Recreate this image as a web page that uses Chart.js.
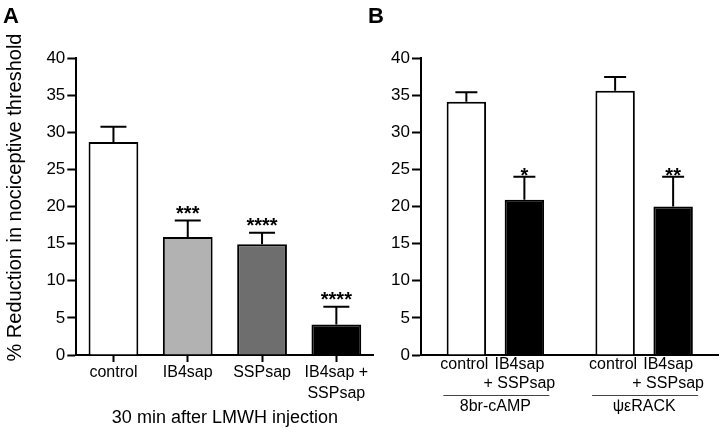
<!DOCTYPE html>
<html><head><meta charset="utf-8">
<script src="https://cdn.jsdelivr.net/npm/chart.js@4"></script>
<style>
html,body{margin:0;padding:0;background:#fff;}
#wrap{position:relative;width:720px;height:432px;overflow:hidden;background:#fff;}
canvas{position:absolute;top:0;}
#cA{left:0;} #cB{left:360px;}
</style></head><body>
<div id="wrap"><canvas id="cA" width="380" height="432"></canvas><canvas id="cB" width="360" height="432"></canvas></div>
<script>
// ---- Data ----
const yTicksMin = 0, yTicksMax = 40, yTickStep = 5;
const yAxisTitle = '% Reduction in nociceptive threshold';

// Panel A
const categoriesA = ['control', 'IB4sap', 'SSPsap', ['IB4sap +', 'SSPsap']];
const meansA = [28.7, 15.9, 14.9, 4.1];
const semA = [2.05, 2.2, 1.55, 2.4];
const starsA = ['', '***', '****', '****'];
const xTitleA = '30 min after LMWH injection';
const colorsA = ['#ffffff', '#b2b2b2', '#6e6e6e', '#000000'];

// Panel B
const groupsB = ['8br-cAMP', 'ψεRACK'];
const barLabelsB = [['control'], ['IB4sap', '+ SSPsap']];
const controlB = [34.1, 35.6];
const controlSemB = [1.3, 1.85];
const treatB = [20.9, 20.0];
const treatSemB = [3.1, 4.0];
const starsB = ['*', '**'];

// ---- Styles ----
const FONT = '"Liberation Sans", Arial, Helvetica, sans-serif';
Chart.defaults.font.family = FONT;
Chart.defaults.color = '#000';
const LW = 2;

function errorPlugin(semSets, starSets, capW, starOffset) {
  return {
    id: 'errs',
    afterDatasetsDraw(chart) {
      const ctx = chart.ctx, ys = chart.scales.y;
      ctx.save();
      ctx.strokeStyle = '#000'; ctx.lineWidth = LW; ctx.fillStyle = '#000';
      chart.data.datasets.forEach((ds, di) => {
        const meta = chart.getDatasetMeta(di);
        meta.data.forEach((el, i) => {
          const v = ds.data[i] + semSets[di][i];
          const yt = ys.getPixelForValue(v);
          ctx.beginPath();
          ctx.moveTo(el.x, el.y); ctx.lineTo(el.x, yt);
          ctx.moveTo(el.x - capW / 2, yt); ctx.lineTo(el.x + capW / 2, yt);
          ctx.stroke();
          const s = starSets[di][i];
          if (s) {
            ctx.font = 'bold 20px ' + FONT;
            ctx.textAlign = 'center'; ctx.textBaseline = 'alphabetic';
            ctx.fillText(s, el.x, yt + starOffset);
          }
        });
      });
      ctx.restore();
    }
  };
}

function panelLabel(txt, x) {
  return {
    id: 'panel' + txt,
    afterDraw(chart) {
      const ctx = chart.ctx;
      ctx.save();
      ctx.font = 'bold 22px ' + FONT;
      ctx.fillStyle = '#000'; ctx.textAlign = 'left'; ctx.textBaseline = 'alphabetic';
      ctx.fillText(txt, x, 23);
      ctx.restore();
    }
  };
}

const yTitlePlugin = {
  id: 'ytitle',
  afterDraw(chart) {
    const ctx = chart.ctx;
    ctx.save();
    ctx.translate(15, 197.5);
    ctx.rotate(-Math.PI / 2);
    ctx.font = '20px ' + FONT;
    ctx.fillStyle = '#000'; ctx.textAlign = 'center'; ctx.textBaseline = 'middle';
    ctx.fillText(yAxisTitle, 0, 0);
    ctx.restore();
  }
};

const barLabelPlugin = {
  id: 'barlabels',
  afterDraw(chart) {
    const ctx = chart.ctx;
    ctx.save();
    ctx.font = '16px ' + FONT;
    ctx.fillStyle = '#000'; ctx.textAlign = 'center'; ctx.textBaseline = 'middle';
    chart.data.datasets.forEach((ds, di) => {
      const meta = chart.getDatasetMeta(di);
      meta.data.forEach((el) => {
        const lines = barLabelsB[di];
        lines.forEach((ln, k) => {
          ctx.fillText(ln, el.x - (di === 0 ? 2 : 5), 365 + k * 19);
        });
      });
    });
    // group underlines
    const xs = chart.scales.x;
    ctx.strokeStyle = '#444'; ctx.lineWidth = 1;
    groupsB.forEach((g, i) => {
      const cx = xs.getPixelForValue(i);
      ctx.beginPath();
      ctx.moveTo(cx - 52, 395.5); ctx.lineTo(cx + 54, 395.5);
      ctx.stroke();
    });
    ctx.restore();
  }
};

const yScaleCommon = (w) => ({
  min: yTicksMin, max: yTicksMax,
  ticks: { stepSize: yTickStep, color: '#000', font: { size: 17 }, padding: 2 },
  grid: { drawOnChartArea: false, tickLength: 9, tickColor: '#000', tickWidth: LW },
  border: { color: '#000', width: LW },
  afterFit(s) { s.width = w; }
});

new Chart(document.getElementById('cA'), {
  type: 'bar',
  data: {
    labels: categoriesA,
    datasets: [{
      data: meansA, backgroundColor: colorsA, borderColor: '#000', borderWidth: LW,
      barPercentage: 0.67, categoryPercentage: 1
    }]
  },
  options: {
    responsive: false, animation: false, devicePixelRatio: 1,
    layout: { padding: { left: 0, right: 380 - 373.5, top: 58, bottom: 0 } },
    plugins: { legend: { display: false }, tooltip: { enabled: false } },
    scales: {
      y: yScaleCommon(76.3),
      x: {
        ticks: { color: '#000', font: { size: 16, lineHeight: 1.3 }, padding: 0 },
        grid: { offset: false, drawOnChartArea: false, tickLength: 7, tickColor: '#000', tickWidth: LW },
        border: { color: '#000', width: LW },
        title: { display: true, text: xTitleA, color: '#000', font: { size: 18 }, padding: { top: 0, bottom: 3 } },
        afterFit(s) { s.height = 432 - 355; }
      }
    }
  },
  plugins: [errorPlugin([semA], [starsA], 26, -0.5), yTitlePlugin, panelLabel('A', 3)]
});

new Chart(document.getElementById('cB'), {
  type: 'bar',
  data: {
    labels: groupsB,
    datasets: [
      { label: 'control', data: controlB, backgroundColor: '#ffffff', borderColor: '#000', borderWidth: LW,
        barPercentage: 0.68, categoryPercentage: 0.78 },
      { label: 'IB4sap + SSPsap', data: treatB, backgroundColor: '#000000', borderColor: '#000', borderWidth: LW,
        barPercentage: 0.68, categoryPercentage: 0.78 }
    ]
  },
  options: {
    responsive: false, animation: false, devicePixelRatio: 1,
    layout: { padding: { left: 0, right: 1.5, top: 58, bottom: 0 } },
    plugins: { legend: { display: false }, tooltip: { enabled: false } },
    scales: {
      y: yScaleCommon(61),
      x: {
        ticks: { color: '#000', font: { size: 16, lineHeight: 1.2 }, padding: 41.5 },
        grid: { display: false, drawTicks: false },
        border: { color: '#000', width: LW },
        afterFit(s) { s.height = 432 - 355; }
      }
    }
  },
  plugins: [errorPlugin([controlSemB, treatSemB], [['', ''], starsB], 22, 5), barLabelPlugin, panelLabel('B', 8)]
});
</script>
</body></html>
